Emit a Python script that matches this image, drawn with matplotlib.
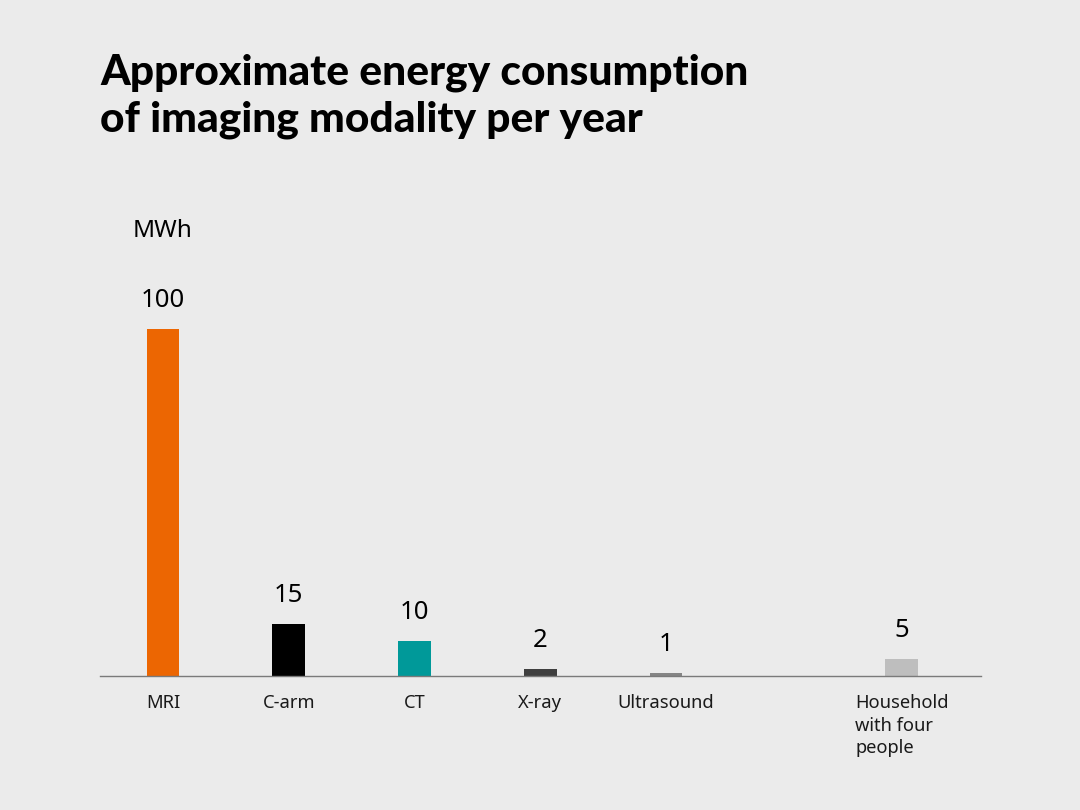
import matplotlib
matplotlib.use("Agg")
import matplotlib.pyplot as plt

categories = ["MRI", "C-arm", "CT", "X-ray", "Ultrasound", "Household\nwith four\npeople"]
values = [100, 15, 10, 2, 1, 5]
value_labels = ["100", "15", "10", "2", "1", "5"]
positions = [0, 1, 2, 3, 4, 5.875]
colors = ["#ec6602", "#000000", "#009999", "#3f3f3f", "#858585", "#bebebe"]
title_lines = ["Approximate energy consumption", "of imaging modality per year"]
unit = "MWh"

BG = "#ebebeb"
plt.rcParams['font.family'] = ['Noto Sans', 'DejaVu Sans']

fig = plt.figure(figsize=(10.8, 8.1), dpi=100, facecolor=BG)
ax = fig.add_axes([100/1080, 1 - 676/810, (981.5 - 100)/1080, 416.4/810])
ax.set_facecolor(BG)

ax.bar(positions, values, width=0.26, color=colors, zorder=2)
ax.set_xlim(-0.501, -0.501 + 881.5/125.75)
ax.set_ylim(0, 120)

for s in ["left", "right", "top"]:
    ax.spines[s].set_visible(False)
ax.spines["bottom"].set_color("#7a7a7a")
ax.spines["bottom"].set_linewidth(1.0)
ax.set_xticks([])
ax.set_yticks([])

for x, v, lab in zip(positions, values, value_labels):
    ax.annotate(lab, xy=(x, v), xytext=(0, 15.8), textcoords="offset points",
                ha="center", va="baseline", fontsize=18.5, color="#000000")

for x, c in zip(positions, categories):
    ax.annotate(c, xy=(x, 0), xytext=(0, -12.8), textcoords="offset points",
                ha="center", va="top", multialignment="left",
                fontsize=13.2, color="#1a1a1a", linespacing=1.34)

ax.annotate(unit, xy=(positions[0], 100), xytext=(0, 15.8 + 70.3/1.389), textcoords="offset points",
            ha="center", va="baseline", fontsize=17.5, color="#000000")

for i, line in enumerate(title_lines):
    fig.text(100/1080, 1 - (85 + 46.7*i)/810, line, ha="left", va="baseline",
             fontsize=30.6, fontweight="black", family=["Lato", "DejaVu Sans"],
             color="#000000")

fig.savefig("out.png", dpi=100, facecolor=BG)
